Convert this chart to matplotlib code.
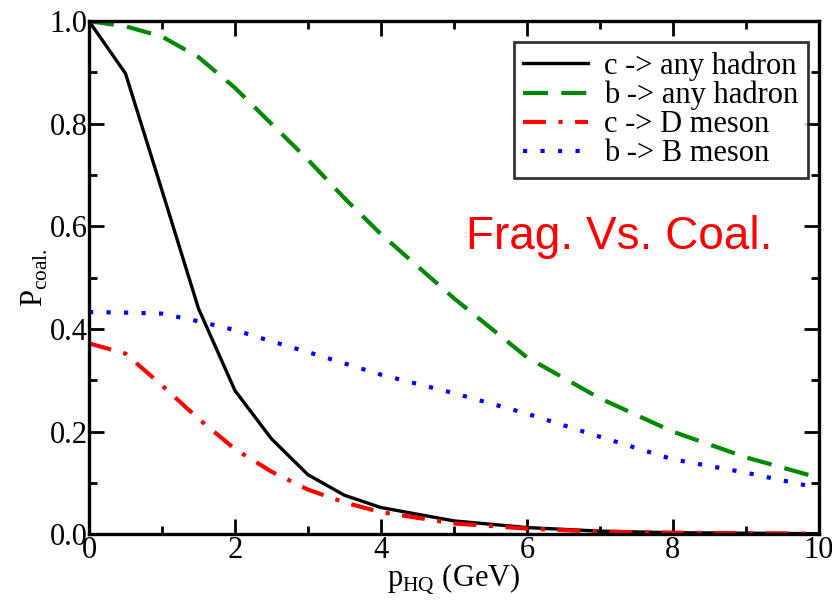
import matplotlib
matplotlib.use('Agg')
import matplotlib.pyplot as plt
from matplotlib.ticker import MultipleLocator

# momentum grid (GeV)
p_hq = [0, 0.5, 1, 1.5, 2, 2.5, 3, 3.5, 4, 5, 6, 7, 8, 9, 10]

# coalescence probabilities
c_any = [1.0, 0.898, 0.67, 0.44, 0.28, 0.186, 0.116, 0.076, 0.052, 0.026, 0.013, 0.006, 0.003, 0.002, 0.001]
b_any = [1.0, 0.99, 0.97, 0.93, 0.87, 0.80, 0.73, 0.655, 0.585, 0.46, 0.345, 0.265, 0.20, 0.15, 0.11]
c_D = [0.372, 0.352, 0.29, 0.225, 0.166, 0.122, 0.087, 0.062, 0.043, 0.021, 0.011, 0.005, 0.003, 0.002, 0.001]
b_B = [0.433, 0.432, 0.43, 0.415, 0.398, 0.376, 0.355, 0.333, 0.311, 0.275, 0.235, 0.19, 0.146, 0.12, 0.09]

labels = ['c -> any hadron', 'b -> any hadron', 'c -> D meson', 'b -> B meson']

plt.rcParams['font.family'] = ['Liberation Serif', 'DejaVu Serif']
plt.rcParams['mathtext.fontset'] = 'custom'
plt.rcParams['mathtext.rm'] = 'Liberation Serif'

fig = plt.figure(figsize=(8.32, 6.05), dpi=100)
ax = fig.add_axes([0.107, 0.117, 0.877, 0.848])

ax.plot(p_hq, c_any, color='black', lw=2.4, label=labels[0])
ax.plot(p_hq, b_any, color='#008800', lw=3.0, dashes=(6, 3.2), label=labels[1])
ax.plot(p_hq, c_D, color='red', lw=3.0, dashes=(5.5, 3, 1, 3), label=labels[2])
ax.plot(p_hq, b_B, color='blue', lw=3.0, dashes=(1, 3.2), label=labels[3])

ax.set_xlim(0, 10)
ax.set_ylim(0, 1.0)
ax.xaxis.set_major_locator(MultipleLocator(2))
ax.xaxis.set_minor_locator(MultipleLocator(1))
ax.yaxis.set_major_locator(MultipleLocator(0.2))
ax.yaxis.set_minor_locator(MultipleLocator(0.1))
ax.yaxis.set_major_formatter(matplotlib.ticker.FormatStrFormatter('%.1f'))
ax.tick_params(which='both', direction='in', top=True, right=True, width=2, labelsize=22, pad=1)
ax.tick_params(which='major', length=11)
ax.tick_params(which='minor', length=6)
for s in ax.spines.values():
    s.set_linewidth(2.4)

ax.set_xlabel(r'p$_{\mathrm{HQ}}$ (GeV)', fontsize=22, labelpad=-2)
ax.set_ylabel(r'P$_{\mathrm{coal.}}$', fontsize=22, labelpad=0)

leg = ax.legend(loc='upper right', bbox_to_anchor=(0.985, 0.959), fontsize=22,
                frameon=True, fancybox=False, edgecolor='black',
                handlelength=2.1, borderpad=0.3, labelspacing=0.0,
                handletextpad=0.55, borderaxespad=0)
leg.get_frame().set_linewidth(2)

ax.text(0.937, 0.579, 'Frag. Vs. Coal.', transform=ax.transAxes, ha='right', va='center',
        color='red', fontsize=33, family=['Liberation Sans', 'DejaVu Sans'])

fig.savefig('out.png', dpi=100)
